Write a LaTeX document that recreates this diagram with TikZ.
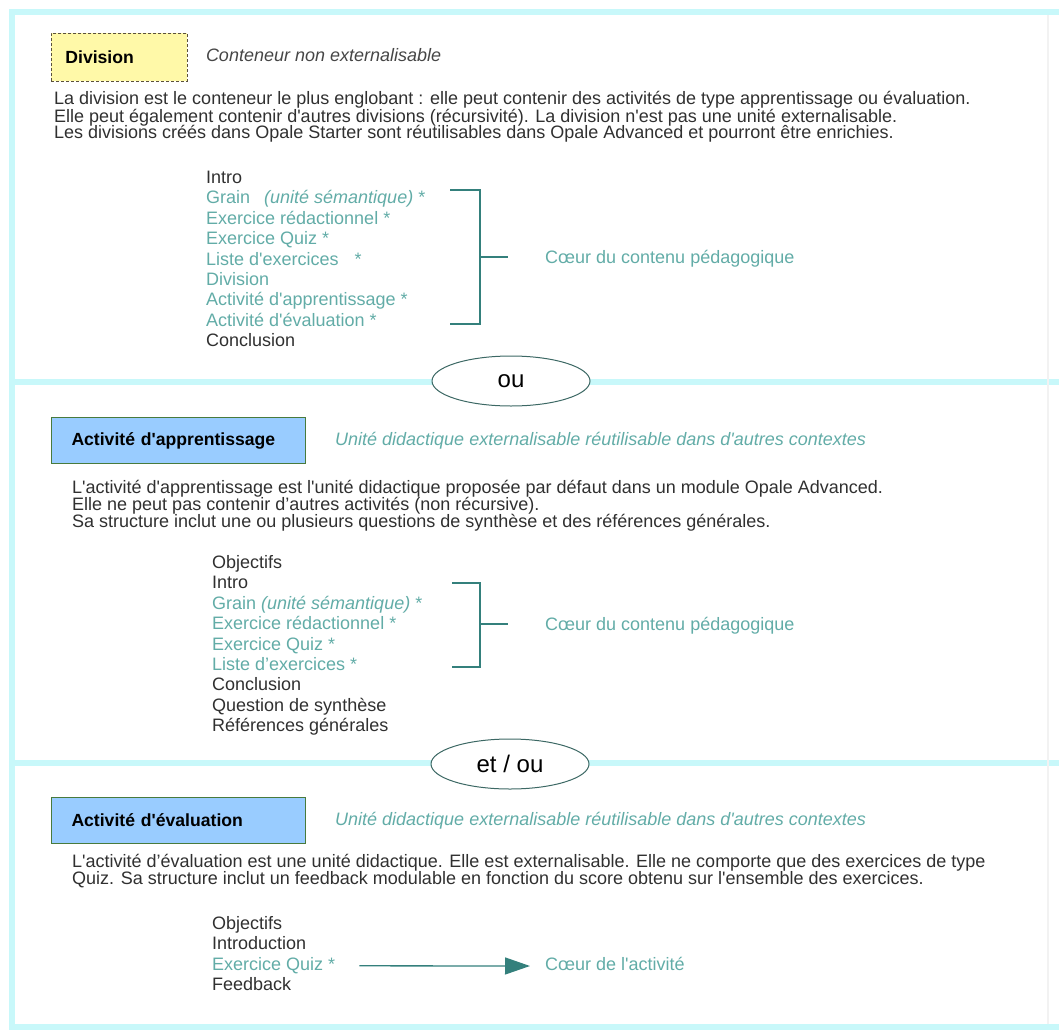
\documentclass[tikz,border=0pt]{standalone}
\usepackage{fontspec}
\setmainfont{Liberation Sans}[Ligatures=TeXOff]
\usetikzlibrary{shapes.geometric, positioning, arrows.meta}

\definecolor{framecyan}{RGB}{200,248,250}
\definecolor{tealtxt}{RGB}{98,172,167}
\definecolor{tealdk}{RGB}{52,128,124}
\definecolor{bodytxt}{RGB}{48,48,48}
\definecolor{notetxt}{RGB}{70,70,70}
\definecolor{yellowbox}{RGB}{255,249,168}
\definecolor{bluebox}{RGB}{153,204,255}
\definecolor{greenedge}{RGB}{72,122,60}
\definecolor{ovaledge}{RGB}{60,104,100}

\tikzset{
  frm/.style={draw=framecyan, line width=6pt},
  txt/.style={font=\fontsize{18}{20}\selectfont, text=bodytxt, anchor=base west, inner sep=0pt, text height=13pt, text depth=4pt},
  hl/.style={txt, text=tealtxt},
  note/.style={txt, font=\fontsize{18}{20}\selectfont\itshape, text=notetxt},
  hlnote/.style={note, text=tealtxt},
  nxt/.style={below=20.4pt of #1.base west, anchor=base west},
  nxp/.style={below=17pt of #1.base west, anchor=base west},
  title/.style={anchor=north west, font=\fontsize{17.6}{20}\selectfont\bfseries, text=black, align=left, inner ysep=0pt},
  divbox/.style={title, fill=yellowbox, draw={rgb,255:red,90;green,80;blue,60}, dash pattern=on 3pt off 2pt, line width=0.8pt, text width=108pt, inner xsep=14pt, minimum height=48pt},
  actbox/.style={title, fill=bluebox, draw=greenedge, line width=1pt, text width=214pt, inner xsep=20pt, minimum height=46pt},
  sep/.style={ellipse, draw=ovaledge, line width=1pt, fill=white, minimum width=158pt, minimum height=50pt, inner sep=0pt, font=\fontsize{24}{26}\selectfont},
  brk/.style={draw=tealdk, line width=1.3pt},
  arr/.style={draw=tealdk, line width=1.3pt, -{Triangle[length=25pt, width=17pt]}}
}

\begin{document}
\begin{tikzpicture}[x=1pt, y=-1pt]
\useasboundingbox (0,0) rectangle (1059,1030);

% frame and separators
\draw[frm] (1059,12) -- (12,12) -- (12,1027) -- (1059,1027);
\draw[frm] (12,382) -- (1059,382);
\draw[frm] (12,763) -- (1059,763);
\draw[draw=black!5, line width=2pt] (1048,15) -- (1048,1024);

% Division
\node[divbox] (div) at (51,33) {Division};
\node[note, right=18pt of div.east, anchor=west] (divnote) {Conteneur non externalisable};
\node[txt] (pA1) at (54,105) {La division est le conteneur le plus englobant : elle peut contenir des activités de type apprentissage ou évaluation.};
\node[txt, nxp=pA1] (pA2) {Elle peut également contenir d'autres divisions (récursivité). La division n'est pas une unité externalisable.};
\node[txt, nxp=pA2] (pA3) {Les divisions créés dans Opale Starter sont réutilisables dans Opale Advanced et pourront être enrichies.};

\node[txt] (iA1) at (206,183.5) {Intro};
\node[hl, nxt=iA1] (iA2) {Grain\hspace{14pt}\textit{(unité sémantique)} *};
\node[hl, nxt=iA2] (iA3) {Exercice rédactionnel *};
\node[hl, nxt=iA3] (iA4) {Exercice Quiz *};
\node[hl, nxt=iA4] (iA5) {Liste d'exercices\hspace{16pt}*};
\node[hl, nxt=iA5] (iA6) {Division};
\node[hl, nxt=iA6] (iA7) {Activité d'apprentissage *};
\node[hl, nxt=iA7] (iA8) {Activité d'évaluation *};
\node[txt, nxt=iA8] (iA9) {Conclusion};

\draw[brk] (450,190) -- (480,190) -- (480,324) -- (450,324);
\draw[brk] (480,257) -- (508,257);
\node[hl] (cA) at (545,263.5) {Cœur du contenu pédagogique};

\node[sep] (or1) at (511,381) {ou};

% Activite d'apprentissage
\node[actbox] (app) at (51,417) {Activité d'apprentissage};
\node[hlnote, right=29pt of app.east, anchor=west] (appnote) {Unité didactique externalisable réutilisable dans d'autres contextes};
\node[txt] (pB1) at (72,493.5) {L'activité d'apprentissage est l'unité didactique proposée par défaut dans un module Opale Advanced.};
\node[txt, nxp=pB1] (pB2) {Elle ne peut pas contenir d’autres activités (non récursive).};
\node[txt, nxp=pB2] (pB3) {Sa structure inclut une ou plusieurs questions de synthèse et des références générales.};

\node[txt] (iB1) at (212,568.5) {Objectifs};
\node[txt, nxt=iB1] (iB2) {Intro};
\node[hl, nxt=iB2] (iB3) {Grain \textit{(unité sémantique)} *};
\node[hl, nxt=iB3] (iB4) {Exercice rédactionnel *};
\node[hl, nxt=iB4] (iB5) {Exercice Quiz *};
\node[hl, nxt=iB5] (iB6) {Liste d’exercices *};
\node[txt, nxt=iB6] (iB7) {Conclusion};
\node[txt, nxt=iB7] (iB8) {Question de synthèse};
\node[txt, nxt=iB8] (iB9) {Références générales};

\draw[brk] (452,583) -- (480,583) -- (480,667) -- (452,667);
\draw[brk] (480,624) -- (508,624);
\node[hl] (cB) at (545,630.5) {Cœur du contenu pédagogique};

\node[sep] (or2) at (510,764) {et / ou};

% Activite d'evaluation
\node[actbox] (eva) at (51,797) {Activité d'évaluation};
\node[hlnote, right=29pt of eva.east, anchor=west] (evanote) {Unité didactique externalisable réutilisable dans d'autres contextes};
\node[txt] (pC1) at (72,867) {L'activité d’évaluation est une unité didactique. Elle est externalisable. Elle ne comporte que des exercices de type};
\node[txt, nxp=pC1] (pC2) {Quiz. Sa structure inclut un feedback modulable en fonction du score obtenu sur l'ensemble des exercices.};

\node[txt] (iC1) at (212,929.5) {Objectifs};
\node[txt, nxt=iC1] (iC2) {Introduction};
\node[hl, nxt=iC2] (iC3) {Exercice Quiz *};
\node[txt, nxt=iC3] (iC4) {Feedback};

\node[hl] (cC) at (545,970.5) {Cœur de l'activité};
\draw[arr] ([xshift=24pt]iC3.east) -- ([xshift=-15pt]cC.west);

\end{tikzpicture}
\end{document}
